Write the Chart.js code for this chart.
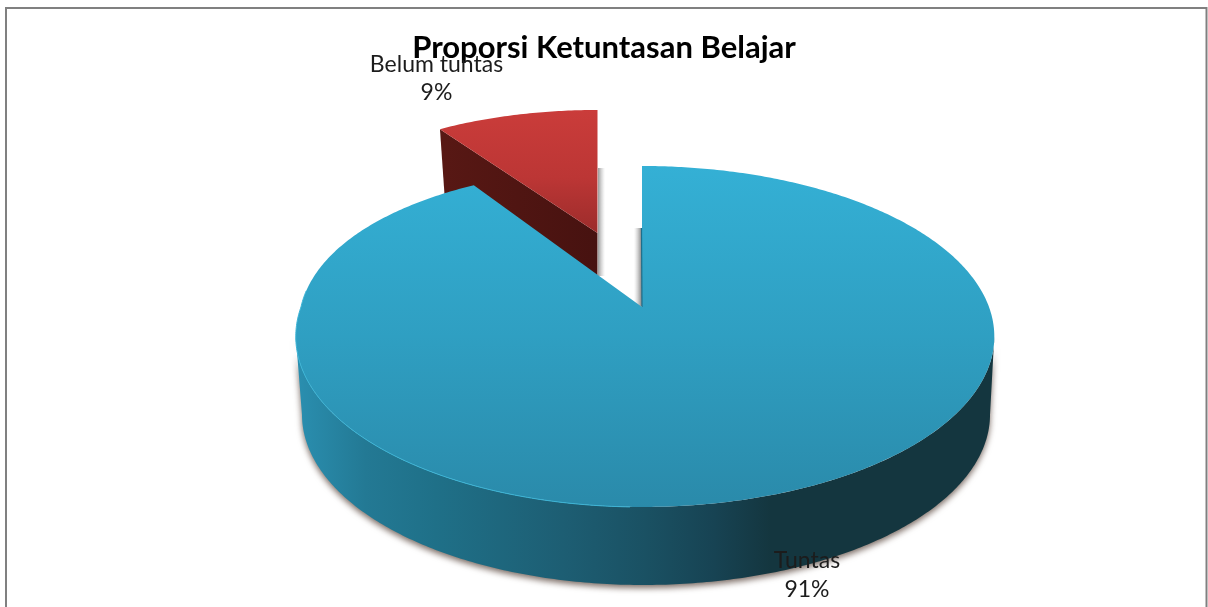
<!DOCTYPE html>
<html><head><meta charset="utf-8">
<style>html,body{margin:0;padding:0;background:#fff;overflow:hidden}canvas{display:block}</style>
<script src="https://cdn.jsdelivr.net/npm/chart.js@4"></script>
</head><body><canvas id="c" width="1208" height="607"></canvas>
<script>
const titleText = 'Proporsi Ketuntasan Belajar';
const categories = ['Tuntas', 'Belum tuntas'];
const values = [91, 9];
const sliceColors = ['#2f9fc2', '#b93535'];

const FONT = 'Lato, sans-serif';
const views = [
  {cx:642, cy:307, rl:341, rr:347, a:165.4, c:0.173, k:0.065},
  {cx:597.5, cy:233, rl:294, rr:294, a:123, c:0, k:0}
];
function project(v, ang){
  const u = Math.cos(ang), w = -Math.sin(ang), d = 1 + v.c*w;
  const bulge = (u<0 && w>0) ? 1 + v.k*w : 1;
  return [v.cx + (u<0?v.rl:v.rr)*bulge*u/d, v.cy - v.a*w/d];
}
function arcPts(v, a0, a1){
  const n = Math.max(2, Math.ceil(Math.abs(a1-a0)*90)), p = [];
  for(let i=0;i<=n;i++) p.push(project(v, a0+(a1-a0)*i/n));
  return p;
}
function poly(ctx, pts){
  ctx.beginPath();
  pts.forEach((p,i)=> i?ctx.lineTo(p[0],p[1]):ctx.moveTo(p[0],p[1]));
  ctx.closePath();
}
function grad(ctx,x0,y0,x1,y1,stops){
  const g = ctx.createLinearGradient(x0,y0,x1,y1);
  stops.forEach(s=>g.addColorStop(s[0],s[1]));
  return g;
}
const pie3d = {
  id:'pie3d',
  beforeDraw(chart){
    const ctx = chart.ctx;
    ctx.save();
    ctx.strokeStyle = '#808080'; ctx.lineWidth = 2;
    ctx.strokeRect(6, 8, 1200.5, 640);
    ctx.restore();
  },
  beforeDatasetDraw(chart){
    const ctx = chart.ctx;
    const arcs = chart.getDatasetMeta(0).data;
    const blue = arcs[0], red = arcs[1];
    ctx.save();

    // red slice: flank, then top face
    const rv = views[1];
    const L = project(rv, red.startAngle), apexR = [rv.cx, rv.cy], depthR = 72;
    ctx.fillStyle = grad(ctx,440,0,597,0,[[0,'#581814'],[1,'#471210']]);
    poly(ctx,[L,apexR,[apexR[0],apexR[1]+depthR],[L[0]+5,L[1]+depthR]]);
    ctx.fill();

    // soft shadows in the gap
    ctx.fillStyle = grad(ctx,598,0,605,0,[[0,'rgba(110,110,110,.7)'],[1,'rgba(170,170,170,0)']]);
    ctx.fillRect(598,168,7,108);
    ctx.fillStyle = grad(ctx,634,0,642,0,[[0,'rgba(170,170,170,0)'],[1,'rgba(90,90,90,.8)']]);
    ctx.fillRect(634,228,8,78);

    ctx.fillStyle = grad(ctx,0,110,0,233,[[0,'#ca3c3a'],[0.55,'#bc3635'],[1,'#9c2c2b']]);
    poly(ctx,[apexR].concat(arcPts(rv, red.startAngle, red.endAngle)));
    ctx.fill();

    // blue slice: wall, then top face
    const bv = views[0], depth = 78, asinC = Math.asin(bv.c);
    const front = arcPts(bv, asinC, Math.PI-asinC);
    const lower = front.map(p=>[bv.cx+(p[0]-bv.cx)*0.985+1, p[1]+depth]).reverse();
    ctx.save();
    ctx.shadowColor='rgba(80,60,50,.75)'; ctx.shadowBlur=6; ctx.shadowOffsetX=0; ctx.shadowOffsetY=3;
    ctx.fillStyle = grad(ctx,296,0,994,0,[[0,'#2a8fb0'],[0.1,'#237994'],[0.2,'#1f7088'],[0.39,'#1d5d72'],[0.5,'#1a5163'],[0.6,'#174353'],[0.68,'#14363f'],[1,'#14363f']]);
    poly(ctx,front.concat(lower));
    ctx.fill();
    ctx.restore();

    ctx.fillStyle = grad(ctx,0,166,0,507,[[0,'#34b0d5'],[0.5,'#2f9fc2'],[1,'#2a8aaa']]);
    poly(ctx,[[bv.cx,bv.cy]].concat(arcPts(bv, blue.startAngle, blue.endAngle)));
    ctx.fill();
    // bright rim along the front, dark sliver on the cut edge
    ctx.strokeStyle='#3bb4d6'; ctx.lineWidth=1;
    const rim = arcPts(bv, 1.6, Math.PI+0.1);
    ctx.beginPath(); rim.forEach((p,i)=> i?ctx.lineTo(p[0],p[1]):ctx.moveTo(p[0],p[1])); ctx.stroke();
    ctx.strokeStyle='#1c6f8c'; ctx.lineWidth=1.2;
    ctx.beginPath(); ctx.moveTo(641.5,228); ctx.lineTo(642,307); ctx.stroke();

    ctx.restore();
    return false;
  },
  afterDraw(chart){
    const ctx = chart.ctx, total = values.reduce((a,b)=>a+b,0);
    const spots = [[807,561,590],[436.5,65,93]];
    ctx.save();
    ctx.font = '23px '+FONT; ctx.fillStyle='#1c1c1c';
    ctx.textAlign='center'; ctx.textBaseline='middle';
    categories.forEach((name,i)=>{
      ctx.fillText(name, spots[i][0], spots[i][1]);
      ctx.fillText(Math.round(values[i]/total*100)+'%', spots[i][0], spots[i][2]);
    });
    ctx.restore();
  }
};
new Chart(document.getElementById('c'),{
  type:'pie',
  data:{labels:categories,datasets:[{data:values,backgroundColor:sliceColors,borderWidth:0}]},
  options:{
    responsive:false,animation:false,
    layout:{padding:0},
    plugins:{
      legend:{display:false},
      tooltip:{enabled:false},
      title:{display:true,text:titleText,color:'#000',
        font:{family:'Lato, sans-serif',size:31,weight:'bold'},
        padding:{top:29,bottom:10}}
    }
  },
  plugins:[pie3d]
});
</script></body></html>
